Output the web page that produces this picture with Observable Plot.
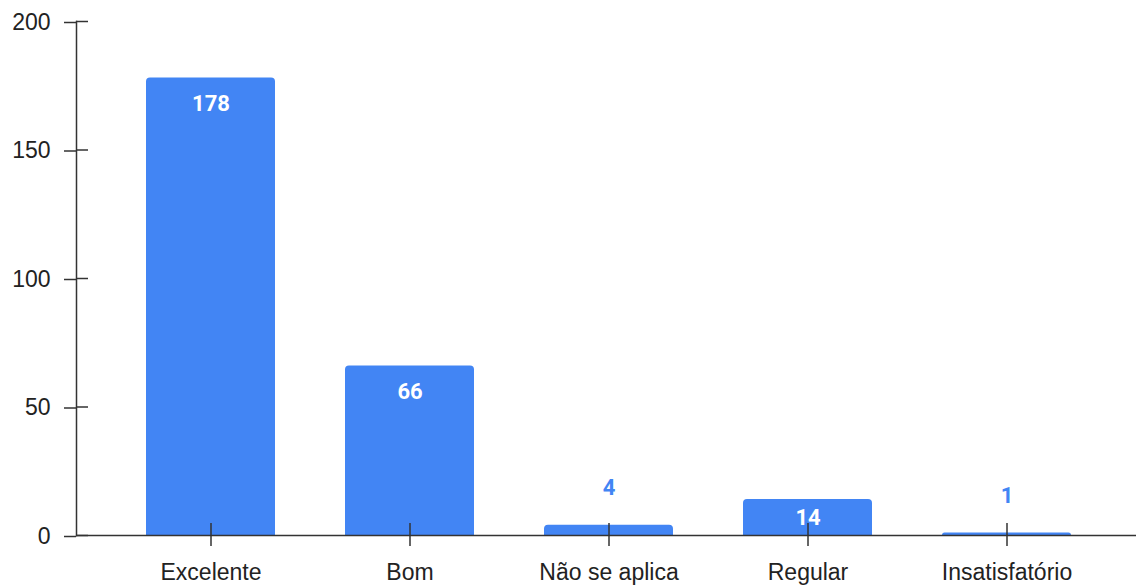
<!DOCTYPE html>
<html><head><meta charset="utf-8">
<script src="https://cdn.jsdelivr.net/npm/d3@7"></script>
<script src="https://cdn.jsdelivr.net/npm/@observablehq/plot@0.6"></script>
<style>html,body{margin:0;padding:0;background:#fff}</style>
</head><body><div id="chart"></div>
<script>
const categories = ["Excelente", "Bom", "Não se aplica", "Regular", "Insatisfatório"];
const counts = [178, 66, 4, 14, 1];
const yTicks = [0, 50, 100, 150, 200];

const data = categories.map((c, i) => ({category: c, count: counts[i]}));
const blue = "#4285F4";
const ink = "#333";
const inside = data.filter(d => d.count >= 10);
const above = data.filter(d => d.count < 10);

const chart = Plot.plot({
  width: 1136, height: 586,
  marginTop: 21, marginBottom: 51, marginLeft: 76, marginRight: 0,
  style: {fontFamily: "'Liberation Sans', Arial, sans-serif", fontSize: "23px", color: "#222", background: "#fff"},
  x: {domain: categories, range: [110.25, 1107.75], paddingInner: 0.35, paddingOuter: 0.175, label: null},
  y: {domain: [0, 200], label: null},
  marks: [
    Plot.barY(data, {x: "category", y: "count", fill: blue, ry1: 4}),
    Plot.ruleY([0], {stroke: ink, strokeWidth: 1.5}),
    Plot.frame({anchor: "left", stroke: ink, strokeWidth: 1.5}),
    Plot.axisY({ticks: yTicks, tickSize: 12, tickPadding: 14, stroke: ink, strokeWidth: 1.5, fontSize: 23, fill: "#222", label: null, dy: 1}),
    Plot.axisY({ticks: yTicks, tickSize: 12, dx: 12, text: null, stroke: ink, strokeWidth: 1.5, label: null}),
    Plot.axisX({tickSize: 11, tickPadding: 17, stroke: ink, strokeWidth: 1.5, fontSize: 23, fill: "#222", label: null}),
    Plot.axisX({tickSize: 12, dy: -12, text: null, stroke: ink, strokeWidth: 1.5, label: null}),
    Plot.text(inside, {x: "category", y: d => Math.max(d.count - 10, d.count / 2), text: d => String(d.count),
      fill: "white", fontSize: 22, fontWeight: "bold", fontFamily: "Roboto, sans-serif"}),
    Plot.text(above, {x: "category", y: "count", dy: -37, text: d => String(d.count),
      fill: blue, fontSize: 22, fontWeight: "bold", fontFamily: "Roboto, sans-serif"})
  ]
});
document.getElementById("chart").append(chart);
</script>
</body></html>
